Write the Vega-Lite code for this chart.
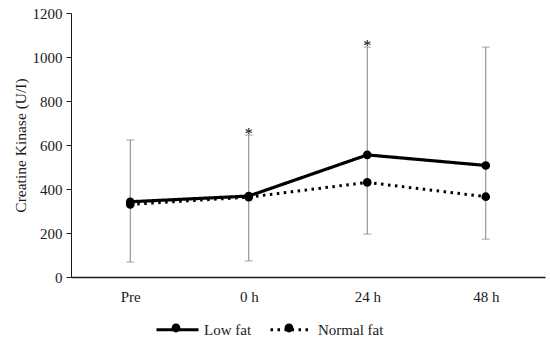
{
  "$schema": "https://vega.github.io/schema/vega-lite/v6.json",
  "width": 474,
  "height": 264,
  "autosize": "none",
  "padding": {"left": 71, "top": 13, "right": 5, "bottom": 67},
  "background": "white",
  "config": {
    "view": {"stroke": null},
    "font": "Liberation Serif",
    "axis": {"labelFont": "Liberation Serif", "titleFont": "Liberation Serif", "labelFontSize": 15, "titleFontSize": 15.5, "titleFontWeight": "normal", "labelColor": "#1a1a1a", "titleColor": "#1a1a1a", "grid": false, "domainColor": "#1a1a1a", "tickColor": "#1a1a1a"},
    "legend": {"labelFont": "Liberation Serif", "labelFontSize": 15, "labelColor": "#1a1a1a"}
  },
  "datasets": {
    "series": [
      {"time": "Pre", "group": "Low fat", "value": 342},
      {"time": "0 h", "group": "Low fat", "value": 368},
      {"time": "24 h", "group": "Low fat", "value": 555},
      {"time": "48 h", "group": "Low fat", "value": 507},
      {"time": "Pre", "group": "Normal fat", "value": 330},
      {"time": "0 h", "group": "Normal fat", "value": 363},
      {"time": "24 h", "group": "Normal fat", "value": 430},
      {"time": "48 h", "group": "Normal fat", "value": 365}
    ],
    "errors": [
      {"time": "Pre", "lo": 68, "hi": 623},
      {"time": "0 h", "lo": 73, "hi": 645},
      {"time": "24 h", "lo": 195, "hi": 1045},
      {"time": "48 h", "lo": 172, "hi": 1045}
    ],
    "stars": [
      {"time": "0 h", "y": 645, "label": "*"},
      {"time": "24 h", "y": 1045, "label": "*"}
    ]
  },
  "resolve": {"legend": {"strokeDash": "independent", "fill": "independent"}},
  "encoding": {
    "x": {"field": "time", "type": "nominal", "sort": ["Pre", "0 h", "24 h", "48 h"],
      "scale": {"type": "point", "padding": 0.5},
      "axis": {"title": null, "labelAngle": 0, "ticks": false, "labelPadding": 12, "domainWidth": 1.5}}
  },
  "layer": [
    {
      "data": {"name": "errors"},
      "mark": {"type": "errorbar", "ticks": {"size": 8, "color": "#808080"}, "rule": {"color": "#808080", "strokeWidth": 1}},
      "encoding": {
        "y": {"field": "lo", "type": "quantitative", "scale": {"domain": [0, 1200]},
          "axis": {"title": "Creatine Kinase (U/I)", "values": [0,200,400,600,800,1000,1200], "format": "d", "tickSize": 5, "labelPadding": 4, "titlePadding": 4}},
        "y2": {"field": "hi"}
      }
    },
    {
      "data": {"name": "series"},
      "mark": {"type": "line", "color": "black"},
      "encoding": {
        "y": {"field": "value", "type": "quantitative"},
        "detail": {"field": "group"},
        "strokeDash": {"field": "group", "type": "nominal",
          "scale": {"domain": ["Low fat", "Normal fat"], "range": [[1, 0], [2.5, 4.5]]},
          "legend": {"title": null, "orient": "none", "legendX": 84, "legendY": 294, "direction": "horizontal",
            "symbolType": "M-1,0H1",
            "symbolSize": 1764, "symbolStrokeWidth": 3, "symbolStrokeColor": "black",
            "labelOffset": 4, "columnPadding": 12, "zindex": 1}},
        "strokeWidth": {"field": "group", "type": "nominal", "scale": {"domain": ["Low fat", "Normal fat"], "range": [3.2, 3]}, "legend": null}
      }
    },
    {
      "data": {"name": "series"},
      "mark": {"type": "point", "filled": true, "opacity": 1, "size": 75, "strokeWidth": 0},
      "encoding": {
        "y": {"field": "value", "type": "quantitative"},
        "fill": {"field": "group", "type": "nominal", "scale": {"range": ["black", "black"]},
          "legend": {"title": null, "orient": "none", "legendX": 84, "legendY": 294, "direction": "horizontal",
            "symbolType": "M-0.21,0A0.21,0.21 0 1,1 0.21,0A0.21,0.21 0 1,1 -0.21,0Z",
            "symbolSize": 1764, "symbolStrokeWidth": 0, "symbolFillColor": "black", "symbolOpacity": 1,
            "labelExpr": "''", "labelOffset": 4, "columnPadding": 67, "zindex": 2}}
      }
    },
    {
      "data": {"name": "stars"},
      "mark": {"type": "text", "fontSize": 16, "baseline": "alphabetic", "dy": 4, "color": "black", "font": "Liberation Serif"},
      "encoding": {
        "y": {"field": "y", "type": "quantitative"},
        "text": {"field": "label"}
      }
    }
  ]
}
